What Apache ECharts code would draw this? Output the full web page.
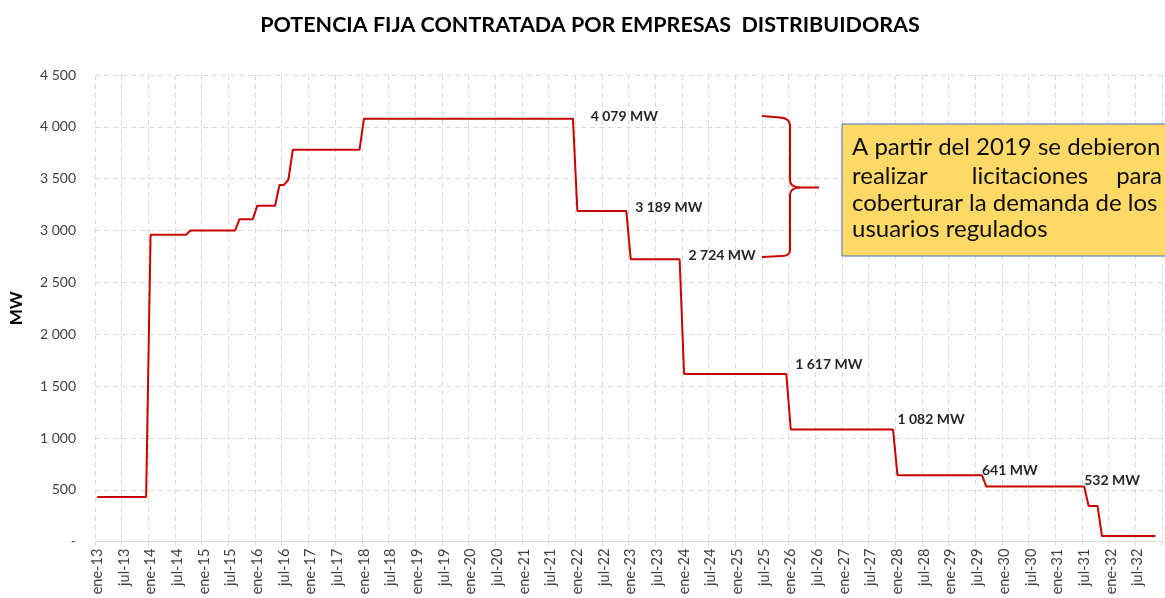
<!DOCTYPE html>
<html>
<head>
<meta charset="utf-8">
<script src="https://cdn.jsdelivr.net/npm/echarts@6/dist/echarts.min.js"></script>
<style>
  html, body { margin: 0; padding: 0; background: #ffffff; }
  #chart { width: 1165px; height: 598px; }
</style>
</head>
<body>
<div id="chart"></div>
<script>
// ---- Data ----
const monthNames = ['ene','feb','mar','abr','may','jun','jul','ago','sep','oct','nov','dic'];
const yearLabels = ['13','14','15','16','17','18','19','20','21','22','23','24','25','26','27','28','29','30','31','32'];

// Potencia fija contratada (MW), monthly, ene-13 ... nov-32
const v2013 = [430,430,430,430,430,430,430,430,430,430,430,430];
const v2014 = [2960,2960,2960,2960,2960,2960,2960,2960,2960,3000,3000,3000];
const v2015 = [3000,3000,3000,3000,3000,3000,3000,3000,3110,3110,3110,3110];
const v2016 = [3240,3240,3240,3240,3240,3440,3440,3490,3780,3780,3780,3780];
const v2017 = [3780,3780,3780,3780,3780,3780,3780,3780,3780,3780,3780,3780];
const v2018 = [4079,4079,4079,4079,4079,4079,4079,4079,4079,4079,4079,4079];
const v2019 = [4079,4079,4079,4079,4079,4079,4079,4079,4079,4079,4079,4079];
const v2020 = [4079,4079,4079,4079,4079,4079,4079,4079,4079,4079,4079,4079];
const v2021 = [4079,4079,4079,4079,4079,4079,4079,4079,4079,4079,4079,4079];
const v2022 = [3189,3189,3189,3189,3189,3189,3189,3189,3189,3189,3189,3189];
const v2023 = [2724,2724,2724,2724,2724,2724,2724,2724,2724,2724,2724,2724];
const v2024 = [1617,1617,1617,1617,1617,1617,1617,1617,1617,1617,1617,1617];
const v2025 = [1617,1617,1617,1617,1617,1617,1617,1617,1617,1617,1617,1617];
const v2026 = [1082,1082,1082,1082,1082,1082,1082,1082,1082,1082,1082,1082];
const v2027 = [1082,1082,1082,1082,1082,1082,1082,1082,1082,1082,1082,1082];
const v2028 = [641,641,641,641,641,641,641,641,641,641,641,641];
const v2029 = [641,641,641,641,641,641,641,641,532,532,532,532];
const v2030 = [532,532,532,532,532,532,532,532,532,532,532,532];
const v2031 = [532,532,532,532,532,532,532,345,345,345,55,55];
const v2032 = [55,55,55,55,55,55,55,55,55,55,55];

// Annotated levels
const annoLabels = ['4 079 MW','3 189 MW','2 724 MW','1 617 MW','1 082 MW','641 MW','532 MW'];
const annoValues = [4079, 3189, 2724, 1617, 1082, 641, 532];

// Y ticks
const yMin = 0, yMax = 4500, yStep = 500;

// ---- Build ----
const categories = [];
yearLabels.forEach(y => monthNames.forEach(m => categories.push(m + '-' + y)));
const values = [].concat(v2013,v2014,v2015,v2016,v2017,v2018,v2019,v2020,v2021,v2022,
                         v2023,v2024,v2025,v2026,v2027,v2028,v2029,v2030,v2031,v2032);

const annoAnchor = [111, 121, 133, 157, 180, 199, 222];
const annoDy = [-2, -3, -4, -10, -10, -5, -6];

const RED = '#C80000';
const FONT = 'Lato, "Open Sans", sans-serif';

const chart = echarts.init(document.getElementById('chart'), null, { renderer: 'canvas' });

function fmtY(v) {
  if (v === 0) return '-';
  return String(v).replace(/\B(?=(\d{3})+(?!\d))/g, ' ');
}

const braceStyle = { stroke: RED, lineWidth: 2, fill: null };
function seg(x1, y1, x2, y2) {
  return { type: 'line', z: 20, shape: { x1, y1, x2, y2 }, style: braceStyle };
}
function curve(x1, y1, cx, cy, x2, y2) {
  return { type: 'bezierCurve', z: 20, shape: { x1, y1, x2, y2, cpx1: cx, cpy1: cy }, style: braceStyle };
}

const boxFont = '24px ' + FONT;
const boxColor = '#0d0d0d';
function boxText(text, x, y, align) {
  return { type: 'text', z: 21, x, y,
    style: { text, font: boxFont, fill: boxColor, textAlign: align, textVerticalAlign: 'top' } };
}

const option = {
  backgroundColor: '#ffffff',
  animation: false,
  title: {
    text: 'POTENCIA FIJA CONTRATADA POR EMPRESAS  DISTRIBUIDORAS',
    left: 585, textAlign: 'center', top: 9,
    textStyle: { fontFamily: FONT, fontSize: 21.5, fontWeight: 'bold', color: '#000000' }
  },
  grid: { left: 94, right: 3, top: 75, bottom: 56.3, containLabel: false },
  xAxis: {
    type: 'category',
    data: categories,
    boundaryGap: true,
    axisLine: { show: true, lineStyle: { color: '#D9D9D9', width: 1 } },
    axisTick: { show: true, interval: 5, length: 4, lineStyle: { color: '#D9D9D9' } },
    axisLabel: {
      interval: 5, rotate: 90, margin: 7,
      fontFamily: FONT, fontSize: 14.5, color: '#404040'
    },
    splitLine: { show: true, interval: 5, lineStyle: { color: '#D9D9D9', type: [5, 4], width: 1 } }
  },
  yAxis: {
    type: 'value',
    min: yMin, max: yMax, interval: yStep,
    name: 'MW', nameLocation: 'middle', nameGap: 70, nameRotate: 90,
    nameTextStyle: { fontFamily: FONT, fontSize: 17, fontWeight: 'bold', color: '#000000' },
    axisLine: { show: false },
    axisTick: { show: false },
    axisLabel: { margin: 19, fontFamily: FONT, fontSize: 14, color: '#404040', formatter: fmtY },
    splitLine: { show: true, lineStyle: { color: '#D9D9D9', type: [5, 4], width: 1 } }
  },
  series: [{
    type: 'line',
    data: values,
    symbol: 'none',
    smooth: false,
    lineStyle: { color: RED, width: 2 },
    itemStyle: { color: RED },
    z: 5,
    markPoint: {
      symbol: 'circle', symbolSize: 0,
      silent: true,
      label: {
        show: true, position: 'right', distance: 0,
        fontFamily: FONT, fontSize: 14, fontWeight: 'bold', color: '#262626'
      },
      data: annoLabels.map((t, i) => ({
        coord: [categories[annoAnchor[i]], annoValues[i]],
        value: annoValues[i],
        label: { formatter: t, offset: [0, annoDy[i]] }
      }))
    }
  }],
  graphic: [
    seg(762, 116, 780, 117.5),
    curve(780, 117.5, 790, 118, 790, 126),
    seg(790, 126, 790, 180),
    curve(790, 180, 790, 187, 800, 187.5),
    seg(800, 187.5, 819, 187.5),
    curve(800, 187.5, 790, 188, 790, 195),
    seg(790, 195, 790, 250),
    curve(790, 250, 790, 256, 782, 256),
    seg(782, 256, 762, 257),
    {
      type: 'rect', z: 20,
      shape: { x: 842, y: 124, width: 330, height: 132 },
      style: { fill: '#FFD966', stroke: '#4472C4', lineWidth: 1 }
    },
    boxText('A partir del 2019 se debieron', 852, 135.5, 'left'),
    boxText('realizar', 852, 164, 'left'),
    boxText('licitaciones', 1030, 164, 'center'),
    boxText('para', 1162, 164, 'right'),
    boxText('coberturar la demanda de los', 852, 191, 'left'),
    boxText('usuarios regulados', 852, 217.5, 'left')
  ]
};

chart.setOption(option);
</script>
</body>
</html>
